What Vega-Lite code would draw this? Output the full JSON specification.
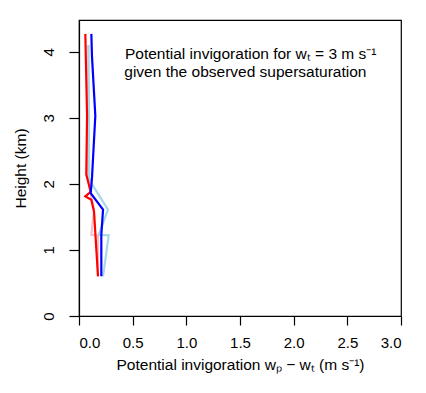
{
  "$schema": "https://vega.github.io/schema/vega-lite/v6.json",
  "autosize": {"type": "none"},
  "padding": {"left": 79, "top": 20, "right": 25, "bottom": 77},
  "width": 322,
  "height": 296,
  "background": "white",
  "config": {
    "font": "Liberation Sans",
    "view": {"stroke": "black", "strokeWidth": 1.2},
    "axis": {
      "grid": false,
      "domainColor": "black",
      "tickColor": "black",
      "labelColor": "black",
      "titleColor": "black",
      "labelFontSize": 15,
      "titleFontSize": 15.5,
      "titleFontWeight": "normal",
      "labelFont": "Liberation Sans",
      "titleFont": "Liberation Sans",
      "tickWidth": 1.2,
      "domainWidth": 1.2
    }
  },
  "datasets": {
    "profiles": [
      {"series": "pink", "i": 1, "x": 0.087, "y": 4.10},
      {"series": "pink", "i": 2, "x": 0.088, "y": 3.02},
      {"series": "pink", "i": 3, "x": 0.084, "y": 2.09},
      {"series": "pink", "i": 4, "x": 0.105, "y": 1.88},
      {"series": "pink", "i": 5, "x": 0.14, "y": 1.60},
      {"series": "pink", "i": 6, "x": 0.115, "y": 1.23},
      {"series": "pink", "i": 7, "x": 0.177, "y": 1.22},
      {"series": "pink", "i": 8, "x": 0.177, "y": 0.60},
      {"series": "lightblue", "i": 1, "x": 0.087, "y": 4.10},
      {"series": "lightblue", "i": 2, "x": 0.093, "y": 3.02},
      {"series": "lightblue", "i": 3, "x": 0.093, "y": 2.09},
      {"series": "lightblue", "i": 4, "x": 0.115, "y": 2.01},
      {"series": "lightblue", "i": 5, "x": 0.27, "y": 1.61},
      {"series": "lightblue", "i": 6, "x": 0.184, "y": 1.23},
      {"series": "lightblue", "i": 7, "x": 0.277, "y": 1.22},
      {"series": "lightblue", "i": 8, "x": 0.224, "y": 0.60},
      {"series": "red", "i": 1, "x": 0.059, "y": 4.27},
      {"series": "red", "i": 2, "x": 0.075, "y": 3.03},
      {"series": "red", "i": 3, "x": 0.068, "y": 2.14},
      {"series": "red", "i": 4, "x": 0.109, "y": 1.88},
      {"series": "red", "i": 5, "x": 0.059, "y": 1.81},
      {"series": "red", "i": 6, "x": 0.115, "y": 1.76},
      {"series": "red", "i": 7, "x": 0.14, "y": 1.58},
      {"series": "red", "i": 8, "x": 0.177, "y": 0.60},
      {"series": "blue", "i": 1, "x": 0.115, "y": 4.27},
      {"series": "blue", "i": 2, "x": 0.121, "y": 3.93},
      {"series": "blue", "i": 3, "x": 0.152, "y": 3.03},
      {"series": "blue", "i": 4, "x": 0.121, "y": 2.09},
      {"series": "blue", "i": 5, "x": 0.109, "y": 1.86},
      {"series": "blue", "i": 6, "x": 0.224, "y": 1.61},
      {"series": "blue", "i": 7, "x": 0.208, "y": 1.23},
      {"series": "blue", "i": 8, "x": 0.208, "y": 0.60}
    ],
    "labels": [
      {"x": 1.60, "y": 3.96, "text": "Potential invigoration for wₜ = 3 m s⁻¹"},
      {"x": 1.55, "y": 3.69, "text": "given the observed supersaturation"}
    ]
  },
  "layer": [
    {
      "data": {"name": "profiles"},
      "mark": {"type": "line", "strokeWidth": 2.2, "clip": true},
      "encoding": {
        "x": {
          "field": "x", "type": "quantitative",
          "scale": {"domain": [0, 3], "nice": false, "zero": false},
          "axis": {
            "values": [0, 0.5, 1, 1.5, 2, 2.5, 3],
            "format": ".1f",
            "tickSize": 9,
            "labelPadding": 10,
            "titlePadding": 7,
            "title": "Potential invigoration wₚ − wₜ  (m s⁻¹)"
          }
        },
        "y": {
          "field": "y", "type": "quantitative",
          "scale": {"domain": [0, 4.48], "nice": false, "zero": false},
          "axis": {
            "values": [0, 1, 2, 3, 4],
            "format": "d",
            "tickSize": 10,
            "labelAngle": -90,
            "labelAlign": "center",
            "labelBaseline": "bottom",
            "labelPadding": 13,
            "titlePadding": 13,
            "title": "Height (km)"
          }
        },
        "color": {
          "field": "series", "type": "nominal",
          "scale": {"domain": ["pink", "lightblue", "red", "blue"], "range": ["#F8C0C8", "#A8D8E8", "#FF0000", "#0000FF"]},
          "legend": null
        },
        "detail": {"field": "series"},
        "order": {"field": "i", "type": "quantitative"}
      }
    },
    {
      "data": {"name": "labels"},
      "mark": {"type": "text", "fontSize": 15.5, "font": "Liberation Sans", "align": "center", "baseline": "middle", "color": "black"},
      "encoding": {
        "x": {"field": "x", "type": "quantitative"},
        "y": {"field": "y", "type": "quantitative"},
        "text": {"field": "text"}
      }
    }
  ]
}
